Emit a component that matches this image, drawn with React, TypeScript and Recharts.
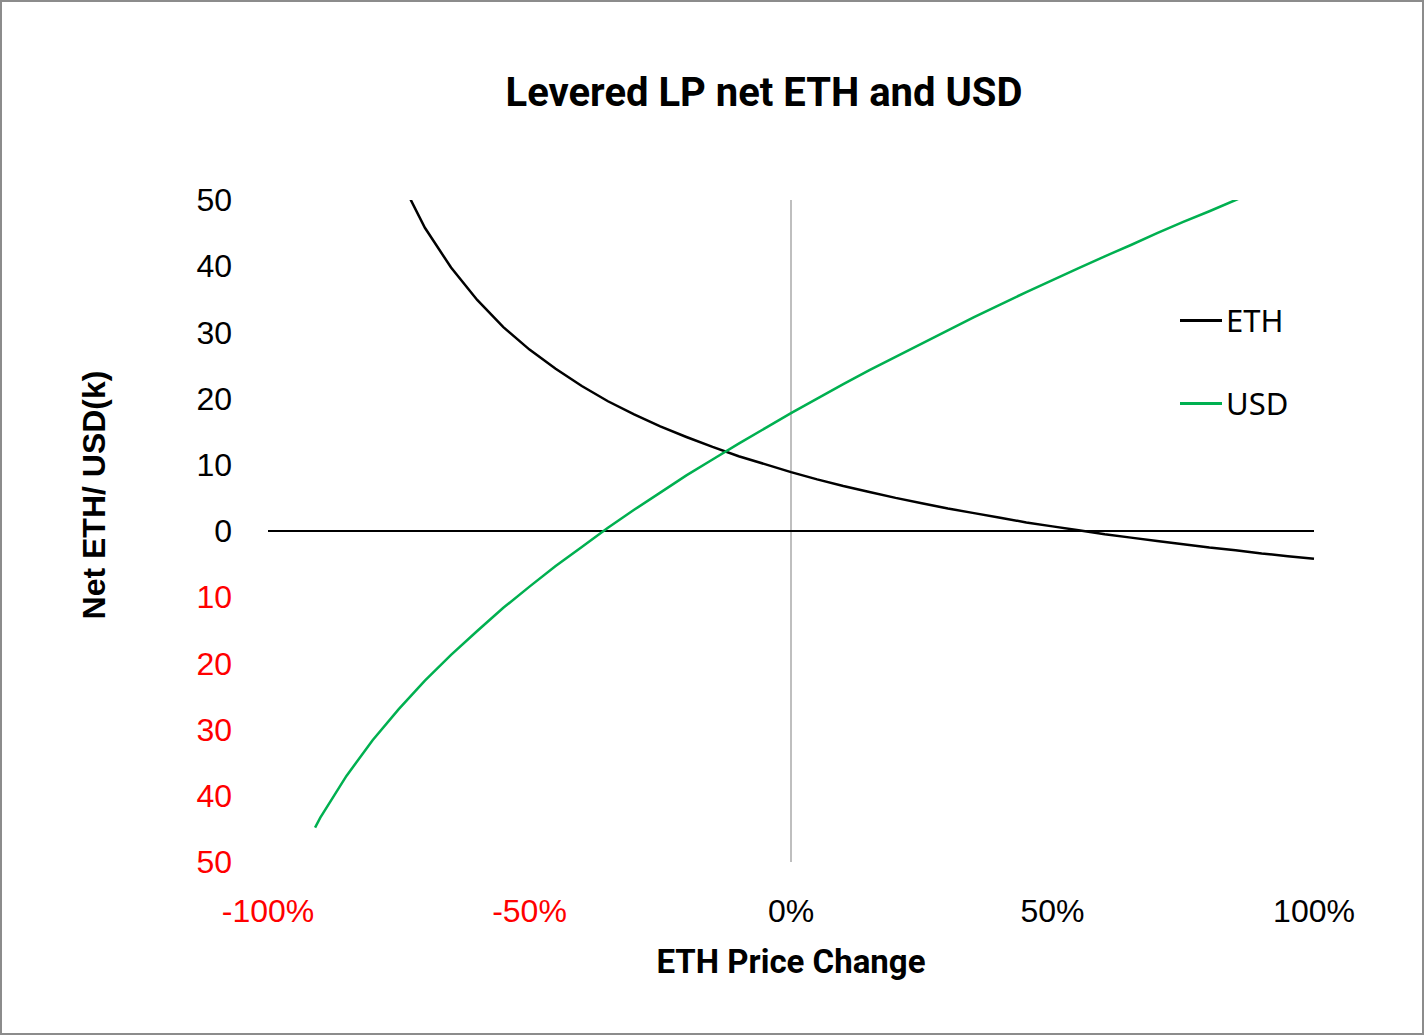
import { LineChart, Line, XAxis, YAxis, ReferenceLine } from 'recharts';

const priceChange = [
  -91, -90, -85, -80, -75, -70, -65, -60, -55, -50, -45, -40, -35, -30, -25, -20, -15, -10, -5,
  0, 5, 10, 15, 20, 25, 30, 35, 40, 45, 50, 55, 60, 65, 70, 75, 80, 85, 90, 95, 100,
];

const ethNet = [
  null, null, null, 64.2, 53.6, 45.8, 39.8, 34.9, 30.8, 27.4, 24.5, 21.9, 19.6, 17.6, 15.8, 14.2, 12.7, 11.3, 10.1,
  8.9, 7.8, 6.8, 5.9, 5.0, 4.2, 3.4, 2.7, 2.0, 1.3, 0.7, 0.1, -0.5, -1.0, -1.5, -2.0, -2.5, -2.9, -3.4, -3.8, -4.2,
];

const usdNet = [
  -44.8, -43.3, -37.0, -31.6, -26.9, -22.6, -18.7, -15.1, -11.6, -8.4, -5.3, -2.4, 0.5, 3.2, 5.8, 8.4, 10.8, 13.2, 15.5,
  17.8, 20.0, 22.2, 24.3, 26.3, 28.3, 30.3, 32.3, 34.2, 36.1, 37.9, 39.7, 41.5, 43.2, 45.0, 46.7, 48.3, 50.0, 51.6, 53.2, 54.8,
];

const xTicks = [-100, -50, 0, 50, 100];
const yTicks = [50, 40, 30, 20, 10, 0, -10, -20, -30, -40, -50];
const seriesNames = ['ETH', 'USD'];

const data = priceChange.map((p, i) => ({ p, eth: ethNet[i], usd: usdNet[i] }));

const GREEN = '#00B050';
const RED = '#FF0000';
const tickFont = '"Liberation Sans", Arial, sans-serif';
const seriesColors = ['#000', GREEN];

const XTick = (props: any) => {
  const { x, y, payload } = props;
  const v = payload.value;
  return (
    <text x={x} y={y} dy="0.35em" textAnchor="middle" fontFamily={tickFont} fontSize={32}
      fill={v < 0 ? RED : '#000'}>
      {v}%
    </text>
  );
};

const YTick = (props: any) => {
  const { x, y, payload } = props;
  const v = payload.value;
  return (
    <text x={x} y={y} dy="0.35em" textAnchor="end" fontFamily={tickFont} fontSize={32}
      fill={v < 0 ? RED : '#000'}>
      {Math.abs(v)}
    </text>
  );
};

export default function App() {
  return (
    <div style={{ position: 'absolute', left: 0, top: 0, width: 1424, height: 1035, background: '#fff' }}>
      <div style={{
        position: 'absolute', left: 0, top: 0, width: 1424, height: 1035, boxSizing: 'border-box',
        border: '2px solid #8c8c8c', pointerEvents: 'none', zIndex: 2,
      }} />
      <div style={{
        position: 'absolute', left: 264, width: 1000, top: 66, textAlign: 'center',
        fontFamily: 'Roboto, sans-serif', fontWeight: 700, fontSize: 40, lineHeight: '54px',
      }}>
        Levered LP net ETH and USD
      </div>
      <div style={{
        position: 'absolute', left: 491, width: 600, top: 940, textAlign: 'center',
        fontFamily: 'Roboto, sans-serif', fontWeight: 700, fontSize: 33, lineHeight: '44px',
      }}>
        ETH Price Change
      </div>
      <div style={{
        position: 'absolute', left: 94 - 200, width: 400, top: 495 - 22, height: 44, textAlign: 'center',
        transform: 'rotate(-90deg)', fontFamily: tickFont, fontWeight: 700, fontSize: 32, lineHeight: '44px',
      }}>
        Net ETH/ USD(k)
      </div>
      <div style={{ position: 'absolute', left: 1180, top: 300, fontFamily: '"Noto Sans", sans-serif', fontSize: 31, zIndex: 1 }}>
        {seriesNames.map((name, i) => (
          <div key={name} style={{ display: 'flex', alignItems: 'center', height: 40, marginBottom: i === 0 ? 43 : 0 }}>
            <div style={{ width: 42, height: 3, background: seriesColors[i], marginRight: 4 }} />
            <span style={{ lineHeight: '40px' }}>{name}</span>
          </div>
        ))}
      </div>
      <LineChart width={1424} height={1035} data={data} margin={{ top: 200, right: 110, bottom: 0, left: 0 }}>
        <XAxis dataKey="p" type="number" domain={[-100, 100]} ticks={xTicks} axisLine={false} tickLine={false}
          tickSize={0} tickMargin={49} height={173} tick={<XTick />} />
        <YAxis type="number" domain={[-50, 50]} ticks={yTicks} allowDataOverflow axisLine={false} tickLine={false}
          tickSize={0} tickMargin={36} width={268} tick={<YTick />} />
        <ReferenceLine x={0} stroke="#bfbfbf" strokeWidth={2} />
        <ReferenceLine y={0} stroke="#000" strokeWidth={2} />
        <Line type="linear" dataKey="eth" name={seriesNames[0]} stroke={seriesColors[0]} strokeWidth={2.5} dot={false}
          isAnimationActive={false} />
        <Line type="linear" dataKey="usd" name={seriesNames[1]} stroke={seriesColors[1]} strokeWidth={2.5} dot={false}
          isAnimationActive={false} />
      </LineChart>
    </div>
  );
}
